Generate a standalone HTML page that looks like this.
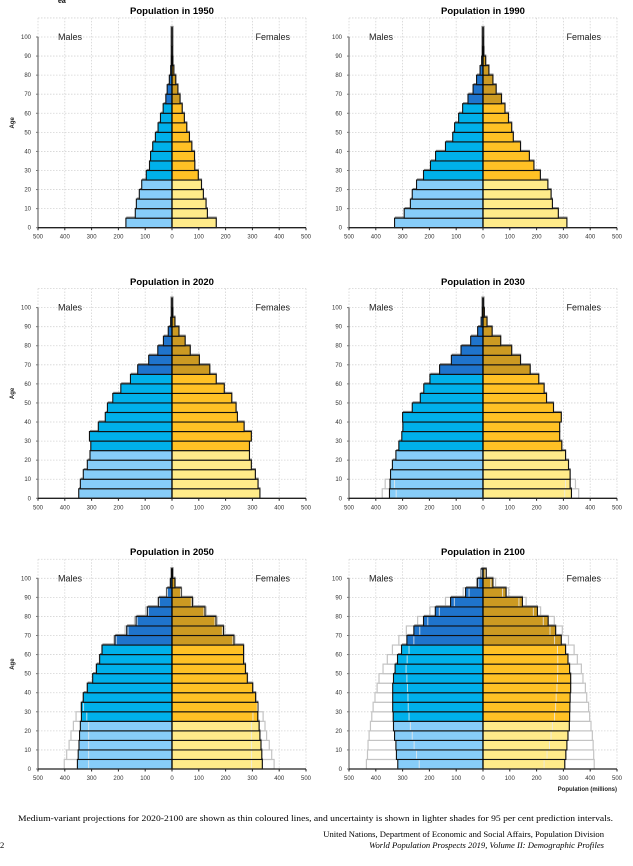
<!DOCTYPE html>
<html><head><meta charset="utf-8"><style>
html,body{margin:0;padding:0;background:#fff;width:633px;height:866px;overflow:hidden}
svg{display:block}
text{font-family:"Liberation Sans",sans-serif}
.serif{font-family:"Liberation Serif",serif}
</style></head><body>
<svg id="c" width="633" height="866" viewBox="0 0 633 866"></svg>
<script>
const ageGroups=[0,5,10,15,20,25,30,35,40,45,50,55,60,65,70,75,80,85,90,95,100];
const xTicks=[500,400,300,200,100,0,100,200,300,400,500];
const yTicks=[0,10,20,30,40,50,60,70,80,90,100];
const titles=["Population in 1950","Population in 1990","Population in 2020","Population in 2030","Population in 2050","Population in 2100"];
const m1950=[172,137,133,122,113,96,84,80,72,62,52,43,33,23,18,10,5,2,1,0.3,0.1];
const f1950=[165,132,127,117,110,98,85,84,74,65,55,46,38,30,22,14,7,3,1,0.3,0.1];
const m1990=[330,294,271,264,248,222,196,177,140,113,106,91,76,56,37,24,11,5,2,0.5,0.1];
const f1990=[313,281,259,254,242,214,190,173,140,113,107,95,82,69,49,37,22,10,3,1,0.2];
const m2020=[348,342,331,316,306,303,308,275,249,241,221,191,155,128,87,53,32,14,5,1,0.3];
const f2020=[328,321,311,296,289,289,296,269,244,239,223,195,165,141,102,68,49,26,11,3,0.5];
const m2030=[349,347,345,338,325,314,303,299,300,264,234,221,198,162,118,82,46,20,7,2,0.5];
const f2030=[330,325,325,319,308,294,286,286,292,263,237,228,208,176,140,107,66,34,15,5,1];
const m2030hi=[376,365,345,338,325,314,303,299,300,264,234,221,198,162,118,82,46,20,7,2,0.5];
const m2030lo=[324,330,345,338,325,314,303,299,300,264,234,221,198,162,118,82,46,20,7,2,0.5];
const f2030hi=[357,345,325,319,308,294,286,286,292,263,237,228,208,176,140,107,66,34,15,5,1];
const f2030lo=[305,308,325,319,308,294,286,286,292,263,237,228,208,176,140,107,66,34,15,5,1];
const m2050=[353,350,347,345,342,338,338,331,316,296,282,270,261,213,169,134,92,50,19,6,1.5];
const f2050=[337,335,332,328,325,320,320,312,301,281,274,267,267,231,192,164,123,76,34,11,2];
const m2050hi=[402,393,384,377,368,358,340,332,317,297,283,271,262,217,175,140,98,54,21,7,2];
const m2050lo=[311,311,311,311,311,318,330,330,315,295,281,269,260,208,164,130,88,47,17,5,1];
const f2050hi=[381,372,363,353,347,340,322,313,302,282,275,268,268,235,197,169,128,80,36,12,2];
const f2050lo=[297,297,297,297,297,302,318,311,300,280,273,266,266,227,188,160,119,72,32,10,2];
const m2100=[318,323,325,330,334,335,337,337,337,334,328,319,304,284,258,222,178,121,65,21,7];
const f2100=[305,309,313,317,322,323,324,325,327,327,323,317,308,292,271,243,203,147,86,37,12];
const m2100hi=[435,431,429,425,420,415,410,403,395,388,373,357,338,314,286,244,198,140,74,24,7];
const m2100lo=[238,248,257,264,271,276,279,280,282,284,287,283,276,258,236,206,163,107,52,16,5];
const f2100hi=[415,413,411,408,403,398,394,387,382,373,367,352,340,319,296,266,215,161,96,47,12];
const f2100lo=[228,239,248,254,259,267,271,273,276,278,279,279,278,267,250,225,188,134,73,29,8];

const panels=[
 {cx:172,y0:227.7,ty:14,m:m1950,f:f1950},
 {cx:483,y0:227.7,ty:14,m:m1990,f:f1990},
 {cx:172,y0:498.3,ty:285,m:m2020,f:f2020},
 {cx:483,y0:498.3,ty:285,m:m2030,f:f2030,mhi:m2030hi,mlo:m2030lo,fhi:f2030hi,flo:f2030lo},
 {cx:172,y0:769,ty:555,m:m2050,f:f2050,mhi:m2050hi,mlo:m2050lo,fhi:f2050hi,flo:f2050lo},
 {cx:483,y0:769,ty:555,m:m2100,f:f2100,mhi:m2100hi,mlo:m2100lo,fhi:f2100hi,flo:f2100lo}
];
const XS=0.268, YS=1.907;
const NS="http://www.w3.org/2000/svg";
const svg=document.getElementById('c');
function mk(tag,attrs,parent){const e=document.createElementNS(NS,tag);for(const k in attrs)e.setAttribute(k,attrs[k]);(parent||svg).appendChild(e);return e;}
const mCol=['#87cdf9','#00b0ea','#1f74cc'], fCol=['#ffeb8a','#ffc125','#cc9a22'];
function colIdx(i){return i<5?0:(i<13?1:2);}

panels.forEach((p,pi)=>{
  const g=mk('g',{});
  
  
  const xS=v=>p.cx+v*XS;
  const yA=a=>p.y0-a*YS;
  const left=xS(-500), right=xS(500);
  for(let k=-500;k<=500;k+=100){
    const l=mk('line',{x1:xS(k),x2:xS(k),y1:yA(110),y2:p.y0,stroke:'#d4d4d4','stroke-width':0.8,'stroke-dasharray':'1.5,1.5'},g);
    
  }
  for(let a=10;a<=110;a+=10){
    const l=mk('line',{x1:left,x2:right,y1:yA(a),y2:yA(a),stroke:'#d4d4d4','stroke-width':0.8,'stroke-dasharray':'1.5,1.5'},g);
    
  }
  const t=mk('text',{x:p.cx,y:p.ty,'text-anchor':'middle','font-size':9.5,'font-weight':'bold',fill:'#000'},g);
  t.textContent=titles[pi];
  
  const ml=mk('text',{x:left+20,y:yA(100)+3,'font-size':9,fill:'#222'},g);ml.textContent='Males';
  
  const fl=mk('text',{x:right-16,y:yA(100)+3,'font-size':9,fill:'#222','text-anchor':'end'},g);fl.textContent='Females';
  
  const bh=5*YS;
  ageGroups.forEach((a,i)=>{
    const yt=yA(a+5), hh=bh;
    if(p.mhi && p.mhi[i]>p.m[i]+0.5){
      const r=mk('rect',{x:xS(-p.mhi[i]),y:yt,width:(p.mhi[i])*XS,height:hh,fill:'#fff',stroke:'#c4c4c4','stroke-width':1.2},g);
      
    }
    if(p.fhi && p.fhi[i]>p.f[i]+0.5){
      const r=mk('rect',{x:p.cx,y:yt,width:(p.fhi[i])*XS,height:hh,fill:'#fff',stroke:'#c4c4c4','stroke-width':1.2},g);
      
    }
  });
  ageGroups.forEach((a,i)=>{
    const yt=yA(a+5);
    const mw=p.m[i]*XS, fw=p.f[i]*XS;
    mk('rect',{x:p.cx-mw+1,y:yt-1,width:mw,height:bh,fill:'none',stroke:'#888','stroke-width':1.2},g);
    mk('rect',{x:p.cx-1,y:yt-1,width:fw+1,height:bh,fill:'none',stroke:'#888','stroke-width':1.2},g);
    const rm=mk('rect',{x:p.cx-mw,y:yt,width:mw,height:bh,fill:mCol[colIdx(i)],stroke:'#111','stroke-width':1.1},g);
    
    const rf=mk('rect',{x:p.cx,y:yt,width:fw,height:bh,fill:fCol[colIdx(i)],stroke:'#111','stroke-width':1.1},g);
    
    if(p.mlo && p.mlo[i]<p.m[i]-1){
      const l=mk('line',{x1:xS(-p.mlo[i]),x2:xS(-p.mlo[i]),y1:yt+0.8,y2:yt+bh-0.8,stroke:'rgba(235,235,235,0.8)','stroke-width':1},g);
      
    }
    if(p.flo && p.flo[i]<p.f[i]-1){
      const l=mk('line',{x1:xS(p.flo[i]),x2:xS(p.flo[i]),y1:yt+0.8,y2:yt+bh-0.8,stroke:'rgba(235,235,235,0.8)','stroke-width':1},g);
      
    }
  });
  mk('line',{x1:p.cx,x2:p.cx,y1:yA(105),y2:p.y0,stroke:'#000','stroke-width':1.2},g);
  const ya=mk('line',{x1:left,x2:left,y1:yA(100),y2:p.y0,stroke:'#777','stroke-width':1.3},g);
  
  const xa=mk('line',{x1:left,x2:right,y1:p.y0,y2:p.y0,stroke:'#222','stroke-width':1.3},g);
  
  yTicks.forEach(a=>{
    mk('line',{x1:left-2,x2:left,y1:yA(a),y2:yA(a),stroke:'#777','stroke-width':1},g);
    const tl=mk('text',{x:left-7,y:yA(a)+2,'font-size':6,'text-anchor':'end',fill:'#333'},g);
    tl.textContent=a;
    
  });
  xTicks.forEach((v,k)=>{
    const xv=xS((k-5)*100);
    mk('line',{x1:xv,x2:xv,y1:p.y0,y2:p.y0+2.5,stroke:'#222','stroke-width':1},g);
    const tl=mk('text',{x:xv,y:p.y0+11,'font-size':6,'text-anchor':'middle',fill:'#333'},g);
    tl.textContent=v;
    
  });
  if(pi%2===0){
    const yl=mk('text',{x:0,y:0,'font-size':6,'font-weight':'bold','text-anchor':'middle',fill:'#222',transform:'translate(14,'+(yA(55))+') rotate(-90)'},g);
    yl.textContent='Age';
    
  }
});
const xt=mk('text',{x:617,y:791,'font-size':6,'font-weight':'bold','text-anchor':'end',fill:'#222'});
xt.textContent='Population (millions)';

const ea=mk('text',{x:58,y:3,'font-size':7,'font-weight':'bold',fill:'#000'});
ea.textContent='ea';

const n1=mk('text',{x:18,y:821,'font-size':8.6,fill:'#000',class:'serif',textLength:595,lengthAdjust:'spacingAndGlyphs'});
n1.textContent='Medium-variant projections for 2020-2100 are shown as thin coloured lines, and uncertainty is shown in lighter shades for 95 per cent prediction intervals.';

const n2=mk('text',{x:604,y:837,'font-size':8.6,fill:'#000',class:'serif','text-anchor':'end'});
n2.textContent='United Nations, Department of Economic and Social Affairs, Population Division';

const n3=mk('text',{x:604,y:848,'font-size':8.6,fill:'#000',class:'serif','text-anchor':'end','font-style':'italic'});
n3.textContent='World Population Prospects 2019, Volume II: Demographic Profiles';

const pg=mk('text',{x:0,y:848,'font-size':8.6,fill:'#000',class:'serif'});
pg.textContent='2';

</script>
</body></html>
